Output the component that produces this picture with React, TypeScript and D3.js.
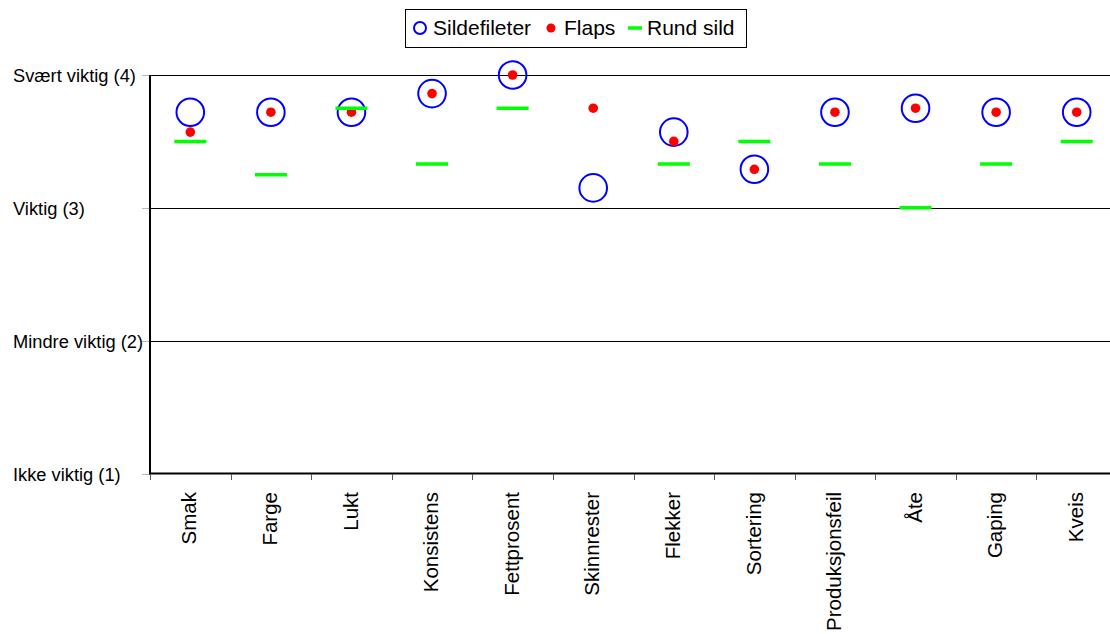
import React, { useEffect } from "react";
import * as d3 from "d3";

const categories = ["Smak", "Farge", "Lukt", "Konsistens", "Fettprosent", "Skinnrester", "Flekker", "Sortering", "Produksjonsfeil", "Åte", "Gaping", "Kveis"];
const sildefileter = [3.72, 3.72, 3.72, 3.86, 4.0, 3.15, 3.57, 3.29, 3.72, 3.75, 3.72, 3.72];
const flaps = [3.57, 3.72, 3.72, 3.86, 4.0, 3.75, 3.5, 3.29, 3.72, 3.75, 3.72, 3.72];
const rundSild: (number | null)[] = [3.5, 3.25, 3.75, 3.33, 3.75, null, 3.33, 3.5, 3.33, 3.0, 3.33, 3.5];
const yTickValues = [1, 2, 3, 4];
const yTickLabels = ["Ikke viktig (1)", "Mindre viktig (2)", "Viktig (3)", "Svært viktig (4)"];
const seriesNames = ["Sildefileter", "Flaps", "Rund sild"];

const W = 1110;
const H = 634;
const FONT = "'Liberation Sans', Arial, sans-serif";

export default function App() {
  useEffect(() => {
    document.body.style.margin = "0";
  }, []);

  const x = d3.scaleBand<string>().domain(categories).range([150, 1117]).padding(0);
  const y = d3.scaleLinear().domain([1, 4]).range([473.5, 75]);
  const cx = (c: string) => (x(c) ?? 0) + x.bandwidth() / 2;
  const edges = categories.map((c) => x(c) ?? 0).concat([x.range()[1]]);

  return (
    <svg width={W} height={H} style={{ position: "absolute", left: 0, top: 0, background: "#fff" }} fontFamily={FONT}>
      {yTickValues.filter((v) => v > 1).map((v) => (
        <line key={"g" + v} x1={150} x2={1117} y1={Math.round(y(v)) + 0.5} y2={Math.round(y(v)) + 0.5} stroke="#000" strokeWidth={1} />
      ))}
      {yTickValues.map((v) => (
        <line key={"yt" + v} x1={142} x2={150} y1={Math.round(y(v)) + 0.5} y2={Math.round(y(v)) + 0.5} stroke="#bbb" strokeWidth={1} />
      ))}
      {yTickValues.map((v, i) => (
        <text key={"yl" + v} x={13} y={y(v) + 1} dy="0.35em" fontSize={18.3} fill="#000">
          {yTickLabels[i]}
        </text>
      ))}
      <line x1={150} x2={150} y1={75} y2={474.5} stroke="#000" strokeWidth={2} />
      <line x1={149} x2={1117} y1={473.5} y2={473.5} stroke="#000" strokeWidth={2} />
      {edges.map((e, i) => (
        <line key={"xt" + i} x1={Math.round(e) + 0.5} x2={Math.round(e) + 0.5} y1={474} y2={480} stroke="#555" strokeWidth={1} />
      ))}
      {categories.map((c) => (
        <text
          key={"xl" + c}
          transform={`translate(${cx(c) - 1},492) rotate(-90)`}
          textAnchor="end"
          dy="0.35em"
          fontSize={20.5}
          fill="#000"
        >
          {c}
        </text>
      ))}
      {categories.map((c, i) => (
        <circle key={"s" + c} cx={cx(c)} cy={y(sildefileter[i])} r={13.8} fill="none" stroke="#0000ff" strokeWidth={2} />
      ))}
      {categories.map((c, i) => (
        <circle key={"f" + c} cx={cx(c)} cy={y(flaps[i])} r={4.8} fill="#ff0000" />
      ))}
      {categories.map((c, i) => {
        const v = rundSild[i];
        if (v === null) return null;
        return <line key={"r" + c} x1={cx(c) - 16} x2={cx(c) + 16} y1={y(v)} y2={y(v)} stroke="#00ff00" strokeWidth={3.5} />;
      })}
      <rect x={405.5} y={9.5} width={341} height={38} fill="#fff" stroke="#000" strokeWidth={1} />
      <circle cx={420} cy={28} r={6} fill="none" stroke="#0000ff" strokeWidth={2} />
      <text x={433} y={28} dy="0.35em" fontSize={21}>{seriesNames[0]}</text>
      <circle cx={551} cy={28} r={4.5} fill="#ff0000" />
      <text x={564} y={28} dy="0.35em" fontSize={21}>{seriesNames[1]}</text>
      <line x1={628} x2={642} y1={28} y2={28} stroke="#00ff00" strokeWidth={3.5} />
      <text x={647} y={28} dy="0.35em" fontSize={21}>{seriesNames[2]}</text>
    </svg>
  );
}
